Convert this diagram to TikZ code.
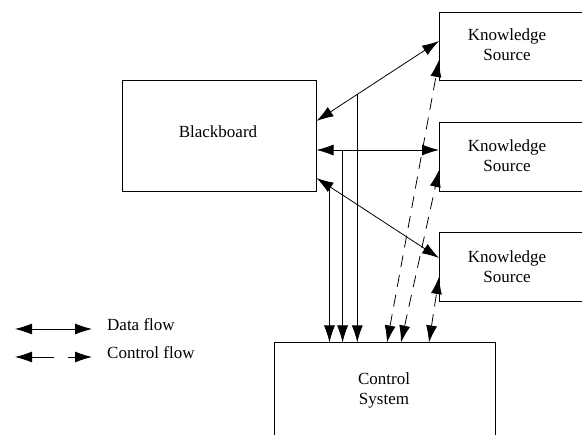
\documentclass[tikz,border=0pt]{standalone}
\usepackage{fontspec}
\setmainfont{Liberation Serif}
\usetikzlibrary{arrows.meta,calc}
\begin{document}
\begin{tikzpicture}[x=1pt,y=-1pt,
  box/.style={draw,line width=1pt,rectangle,inner sep=0pt},
  lbl/.style={align=center,font=\fontsize{17}{20}\selectfont,inner sep=0pt},
  hd/.tip={Latex[length=17pt,width=11pt]},
  data/.style={line width=0.8pt,{hd}-{hd}},
  down/.style={line width=0.8pt,-{hd}},
  ctrl/.style={line width=0.8pt,{hd}-{hd},dash pattern=on 12pt off 8pt}]
\useasboundingbox (0,0) rectangle (582,435);
\clip (0,0) rectangle (582,435);
% boxes
\node[box,minimum width=194pt,minimum height=111pt] (bb) at (219,136.5) {};
\node[lbl] (bbt) at (218,132) {Blackboard};
\node[box,minimum width=170pt,minimum height=68pt,anchor=west] (ks1) at (439,47) {};
\node[box,minimum width=170pt,minimum height=69pt,anchor=west] (ks2) at (439,157.5) {};
\node[box,minimum width=170pt,minimum height=69pt,anchor=west] (ks3) at (439,267.5) {};
\node[lbl] (ks1t) at (507,45) {Knowledge\\Source};
\node[lbl] (ks2t) at (507,156) {Knowledge\\Source};
\node[lbl] (ks3t) at (507,266.5) {Knowledge\\Source};
\node[box,minimum width=221pt,minimum height=117pt] (cs) at (384.5,401.5) {};
\node[lbl] (cst) at (384,390) {Control\\System};
% data flows
\draw[data] (bb.east |- 0,121) -- coordinate[pos=0.333] (v1) (ks1.west |- 0,41);
\draw[data] (bb.east |- 0,150) -- coordinate[pos=0.213] (v2) (ks2.west |- 0,150);
\draw[data] (bb.east |- 0,178) -- coordinate[pos=0.106] (v3) (ks3.west |- 0,258);
\draw[down] (v1) -- (v1 |- cs.north);
\draw[down] (v2) -- (v2 |- cs.north);
\draw[down] (v3) -- (v3 |- cs.north);
% control flows
\draw[ctrl] (cs.north -| 387,0) -- (ks1.west |- 0,60);
\draw[ctrl] (cs.north -| 401,0) -- (ks2.west |- 0,170);
\draw[ctrl] (cs.north -| 429,0) -- (ks3.west |- 0,277);
% legend
\coordinate (la) at (15,329);
\coordinate (lb) at (92,329);
\coordinate (lc) at (15,357);
\coordinate (ld) at (92,357);
\draw[data] (la) -- (lb);
\draw[line width=0.8pt,{hd}-{hd},dash pattern=on 22.5pt off 14pt on 50pt off 0pt] (lc) -- (ld);
\node[lbl,anchor=west] (ldt) at (107,325) {Data flow};
\node[lbl,anchor=west] (lct) at (107,353) {Control flow};
\end{tikzpicture}
\end{document}
